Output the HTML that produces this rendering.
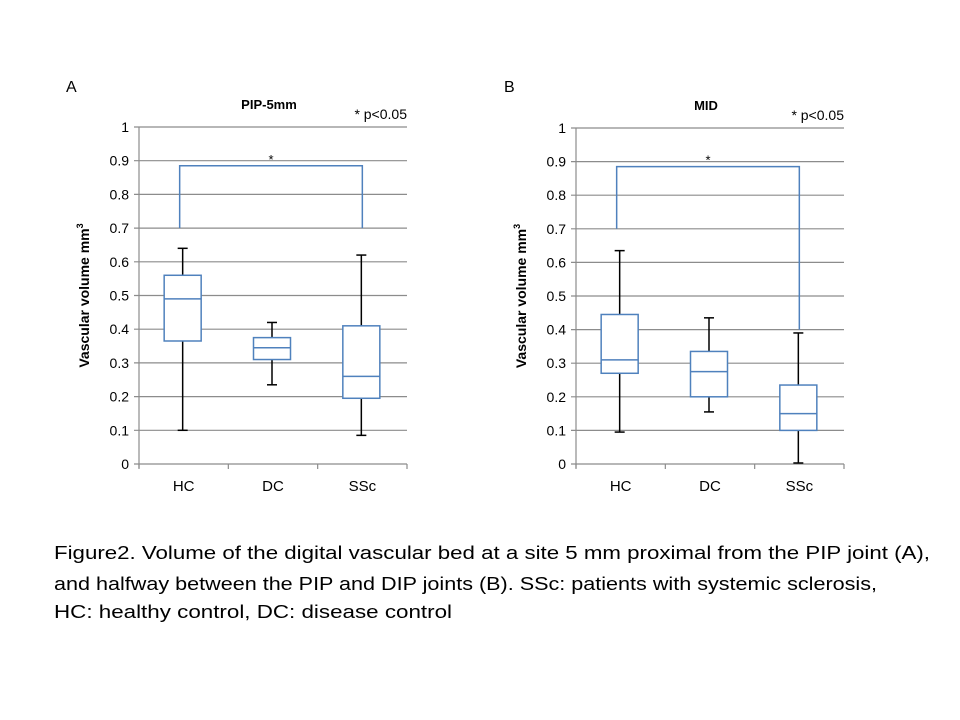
<!DOCTYPE html>
<html><head><meta charset="utf-8"><style>
html,body{margin:0;padding:0;background:#fff;}
svg{display:block;font-family:"Liberation Sans",sans-serif;}
</style></head><body>
<svg id="fig" width="960" height="720" viewBox="0 0 960 720">
<text x="66" y="92" font-size="16">A</text>
<text x="504" y="92" font-size="16">B</text>
<text x="54" y="559" font-size="18" textLength="876" lengthAdjust="spacingAndGlyphs">Figure2. Volume of the digital vascular bed at a site 5 mm proximal from the PIP joint (A),</text>
<text x="54" y="590" font-size="18" textLength="823" lengthAdjust="spacingAndGlyphs">and halfway between the  PIP and DIP joints (B). SSc: patients with systemic sclerosis,</text>
<text x="54" y="618" font-size="18" textLength="398" lengthAdjust="spacingAndGlyphs">HC: healthy control, DC: disease control</text>
</svg>
<script>
const categories = ["HC","DC","SSc"];
const yTicks = [0,0.1,0.2,0.3,0.4,0.5,0.6,0.7,0.8,0.9,1];
const yTickLabels = ["0","0.1","0.2","0.3","0.4","0.5","0.6","0.7","0.8","0.9","1"];
// Panel A (PIP-5mm)
const aMin = [0.10,0.235,0.085];
const aQ1 = [0.365,0.31,0.195];
const aMed = [0.49,0.345,0.26];
const aQ3 = [0.56,0.375,0.41];
const aMax = [0.64,0.42,0.62];
const aBracket = [0.885,0.70,0.70];
// Panel B (MID)
const bMin = [0.095,0.155,0.003];
const bQ1 = [0.27,0.20,0.10];
const bMed = [0.31,0.275,0.15];
const bQ3 = [0.445,0.335,0.235];
const bMax = [0.635,0.435,0.39];
const bBracket = [0.885,0.70,0.40];

const NS="http://www.w3.org/2000/svg";
const svg=document.getElementById('fig');
function mk(tag,attrs,parent){const e=document.createElementNS(NS,tag);for(const k in attrs)e.setAttribute(k,attrs[k]);(parent||svg).appendChild(e);return e;}

function drawChart(id,x0,x1,yTop,yBot,title,mins,q1,med,q3,maxs,br){
  const g=mk('g',{});
  
  
  const ys=v=>yBot-(v-yTicks[0])/(yTicks[yTicks.length-1]-yTicks[0])*(yBot-yTop);
  const bw=(x1-x0)/categories.length;
  const xc=i=>x0+bw*(i+0.5);
  yTicks.forEach((t,i)=>{
    const y=ys(t);
    const l=mk('line',{x1:x0-5,x2:x1,y1:y,y2:y,stroke:'#8c8c8c','stroke-width':1.2},g);
    
    
    const tx=mk('text',{x:x0-10,y:y+5,'text-anchor':'end','font-size':14,fill:'#000'},g);
    tx.textContent=yTickLabels[i];
    
    
  });
  const ax=mk('line',{x1:x0,x2:x0,y1:yTop,y2:yBot+4,stroke:'#8c8c8c','stroke-width':1.2},g);
  
  
  for(let i=0;i<=categories.length;i++){
    const t=mk('line',{x1:x0+bw*i,x2:x0+bw*i,y1:yBot,y2:yBot+5,stroke:'#8c8c8c','stroke-width':1.2},g);
    
    
  }
  categories.forEach((c,i)=>{
    const tx=mk('text',{x:xc(i),y:yBot+27,'text-anchor':'middle','font-size':15},g);
    tx.textContent=c;
    
    
    const cx=xc(i)-1, hw=18.5;
    const w1=mk('line',{x1:cx,x2:cx,y1:ys(maxs[i]),y2:ys(q3[i]),stroke:'#000','stroke-width':1.5},g);
    
    
    const w2=mk('line',{x1:cx,x2:cx,y1:ys(q1[i]),y2:ys(mins[i]),stroke:'#000','stroke-width':1.5},g);
    
    
    [maxs[i],mins[i]].forEach(v=>{
      const cap=mk('line',{x1:cx-5,x2:cx+5,y1:ys(v),y2:ys(v),stroke:'#000','stroke-width':1.5},g);
      
      
    });
    const r=mk('rect',{x:cx-hw,y:ys(q3[i]),width:hw*2,height:ys(q1[i])-ys(q3[i]),fill:'#fff',stroke:'#4f81bd','stroke-width':1.5},g);
    
    
    const m=mk('line',{x1:cx-hw,x2:cx+hw,y1:ys(med[i]),y2:ys(med[i]),stroke:'#4f81bd','stroke-width':1.5},g);
    
    
  });
  const lx=xc(0)-4, rx=xc(2);
  const p=mk('polyline',{points:`${lx},${ys(br[1])} ${lx},${ys(br[0])} ${rx},${ys(br[0])} ${rx},${ys(br[2])}`,fill:'none',stroke:'#4f81bd','stroke-width':1.5},g);
  
  
  const st=mk('text',{x:(lx+rx)/2,y:ys(br[0])-2,'text-anchor':'middle','font-size':13},g);
  st.textContent='*';
  
  
  const tt=mk('text',{x:(x0+x1)/2-4,y:yTop-18,'text-anchor':'middle','font-size':13,'font-weight':'bold'},g);
  tt.textContent=title;
  
  
  const pv=mk('text',{x:x1,y:yTop-8,'text-anchor':'end','font-size':14},g);
  pv.textContent='* p<0.05';
  
  
  const yt=mk('text',{x:0,y:0,'text-anchor':'middle','font-size':14,'font-weight':'bold',transform:`translate(${x0-50},${(yTop+yBot)/2}) rotate(-90)`},g);
  yt.innerHTML='Vascular volume mm<tspan dy="-6" font-size="9">3</tspan>';
  
  
}
drawChart('chart-pip-5mm',139,407,127,464,'PIP-5mm',aMin,aQ1,aMed,aQ3,aMax,aBracket);
drawChart('chart-mid',576,844,128,464,'MID',bMin,bQ1,bMed,bQ3,bMax,bBracket);
</script>
</body></html>
